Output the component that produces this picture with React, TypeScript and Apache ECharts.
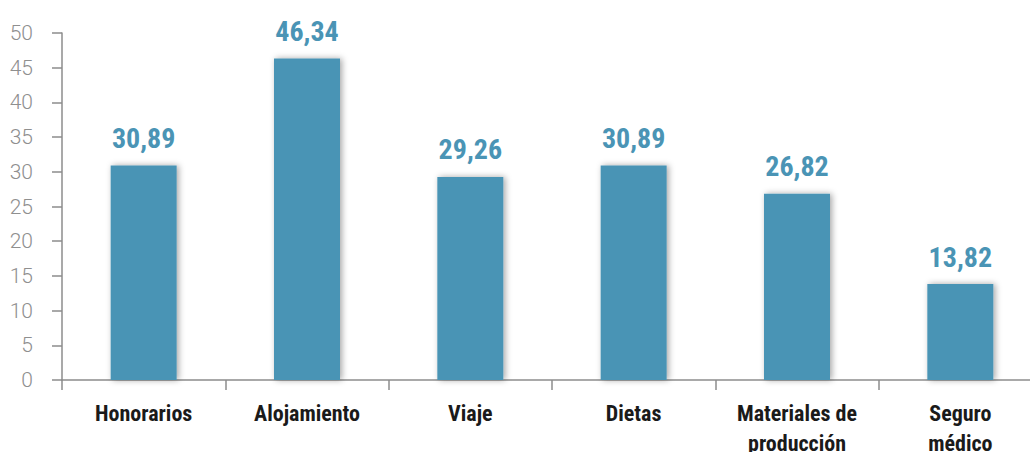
import React, { useEffect, useRef } from "react";
import * as echarts from "echarts";

const categories = ["Honorarios", "Alojamiento", "Viaje", "Dietas", "Materiales de\nproducción", "Seguro\nmédico"];
const values = [30.89, 46.34, 29.26, 30.89, 26.82, 13.82];
const yTicks = { min: 0, max: 50, interval: 5 };

const condensed = "'Liberation Sans Narrow', 'Roboto Condensed', 'Arial Narrow', Roboto, sans-serif";

export default function App() {
  const ref = useRef<HTMLDivElement>(null);
  useEffect(() => {
    const chart = echarts.init(ref.current!, null, { renderer: "svg" });
    chart.setOption({
      animation: false,
      grid: { left: 62, right: -12, top: 33, bottom: 72, containLabel: false, outerBoundsMode: "none" },
      xAxis: {
        type: "category",
        data: categories,
        axisLine: { show: true, lineStyle: { color: "#8c8c8c", width: 1.5 } },
        axisTick: { show: true, length: 10, lineStyle: { color: "#8c8c8c", width: 1.5 } },
        axisLabel: {
          interval: 0,
          margin: 18,
          color: "#1a1a1a",
          fontSize: 22,
          fontWeight: "bold",
          fontFamily: condensed,
          lineHeight: 30,
        },
      },
      yAxis: {
        type: "value",
        min: yTicks.min,
        max: yTicks.max,
        interval: yTicks.interval,
        splitLine: { show: false },
        axisLine: { show: true, lineStyle: { color: "#8c8c8c", width: 1.5 } },
        axisTick: { show: true, length: 10, lineStyle: { color: "#8c8c8c", width: 1.5 } },
        axisLabel: {
          margin: 29,
          color: "#8f8f8f",
          fontSize: 21,
          fontWeight: 300,
          fontFamily: "Roboto, sans-serif",
        },
      },
      series: [
        {
          type: "bar",
          data: values,
          barWidth: 66,
          itemStyle: {
            color: "#4a94b5",
            shadowColor: "rgba(0,0,0,0.35)",
            shadowBlur: 6,
            shadowOffsetX: 2,
          },
          label: {
            show: true,
            position: "top",
            distance: 13,
            color: "#4a94b5",
            fontSize: 28,
            fontWeight: "bold",
            fontFamily: condensed,
            formatter: (p: any) => p.value.toFixed(2).replace(".", ","),
          },
        },
      ],
    });
    return () => chart.dispose();
  }, []);
  return <div ref={ref} style={{ width: 1030, height: 452, position: "absolute", left: 0, top: 0 }} />;
}
